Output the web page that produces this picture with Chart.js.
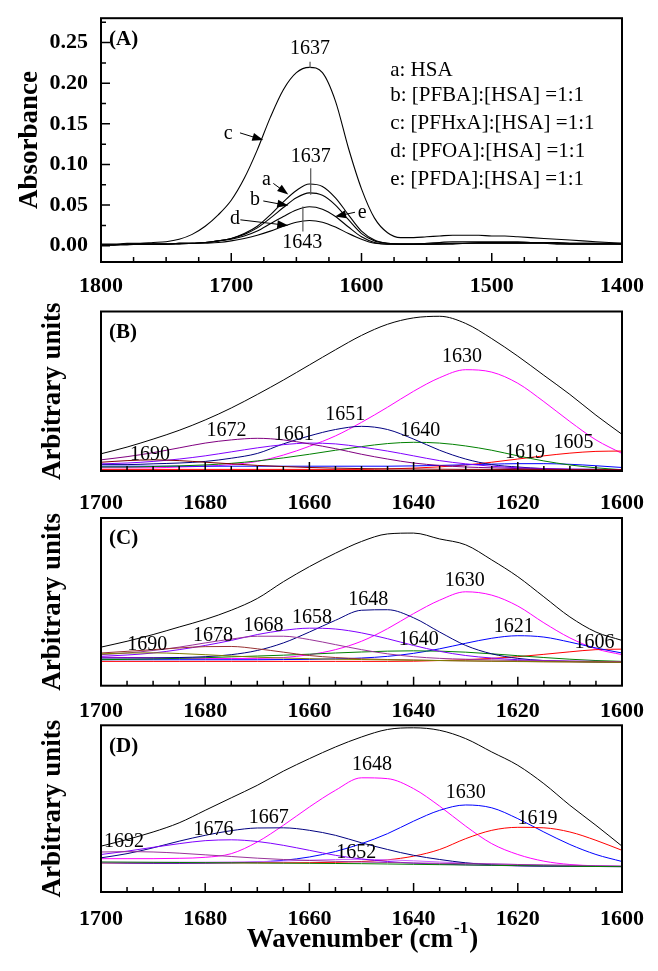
<!DOCTYPE html>
<html>
<head>
<meta charset="utf-8">
<script src="https://cdn.jsdelivr.net/npm/chart.js@4.4.1/dist/chart.umd.min.js"></script>
<style>
  html, body { margin: 0; padding: 0; background: #fff; }
  #page { position: relative; width: 658px; height: 971px; background: #fff; overflow: hidden; }
  #page canvas { position: absolute; left: 0; }
</style>
</head>
<body>
<div id="page">
  <canvas id="chartA" width="658" height="300" style="top:0px"></canvas>
  <canvas id="chartB" width="658" height="212" style="top:300px"></canvas>
  <canvas id="chartC" width="658" height="208" style="top:512px"></canvas>
  <canvas id="chartD" width="658" height="251" style="top:720px"></canvas>
</div>
<script>
const serif = "'Liberation Serif', 'Times New Roman', serif";

// ---------- (A) amide I absorbance, 1800-1400 cm-1 ----------
const waveA = [1800, 1790, 1780, 1770, 1760, 1750, 1740, 1730, 1720, 1710,
               1700, 1690, 1680, 1670, 1660, 1650, 1640, 1630, 1620, 1610,
               1600, 1590, 1580, 1570, 1560, 1550, 1540, 1530, 1520, 1510,
               1500, 1490, 1480, 1470, 1460, 1450, 1440, 1430, 1420, 1410, 1400];
const absHSA = [.001, .001, .002, .002, .002, .002, .003, .003, .004, .006,
                .009, .015, .024, .038, .054, .068, .076, .073, .059, .038,
                .018, .007, .003, .002, .002, .002, .003, .003, .003, .004,
                .004, .004, .004, .004, .004, .003, .003, .003, .003, .003, .003];
const absPFBA = [.001, .001, .002, .002, .002, .002, .003, .003, .004, .006,
                 .009, .014, .022, .034, .047, .059, .065, .062, .050, .032,
                 .015, .006, .003, .002, .002, .002, .002, .003, .003, .003,
                 .003, .003, .003, .003, .003, .003, .002, .002, .002, .002, .002];
const absPFHxA = [.002, .002, .003, .003, .004, .005, .008, .014, .024, .038,
                  .056, .083, .118, .158, .192, .213, .2195, .213, .178, .120,
                  .070, .034, .016, .010, .010, .011, .012, .013, .013, .013,
                  .012, .012, .011, .010, .009, .008, .007, .006, .005, .004, .003];
const absPFOA = [.001, .001, .001, .002, .002, .002, .002, .003, .003, .004,
                 .006, .009, .013, .018, .024, .029, .031, .029, .023, .015,
                 .008, .003, .002, .002, .002, .002, .002, .002, .003, .003,
                 .003, .003, .003, .003, .003, .002, .002, .002, .002, .002, .002];
const absPFDA = [.001, .001, .002, .002, .002, .002, .003, .003, .004, .006,
                 .008, .012, .018, .027, .036, .044, .048, .045, .036, .023,
                 .011, .004, .002, .002, .002, .003, .004, .005, .005, .005,
                 .005, .005, .005, .004, .004, .004, .003, .003, .003, .003, .002];
const legendA = ['a: HSA', 'b: [PFBA]:[HSA] =1:1', 'c: [PFHxA]:[HSA] =1:1',
                 'd: [PFOA]:[HSA] =1:1', 'e: [PFDA]:[HSA] =1:1'];
const xTicksA = [1800, 1700, 1600, 1500, 1400];
const yTicksA = [0, 0.05, 0.10, 0.15, 0.20, 0.25];

// ---------- (B)-(D) curve fitting, 1700-1600 cm-1 ----------
const waveFit = [1700, 1695, 1690, 1685, 1680, 1675, 1670, 1665, 1660, 1655,
                 1650, 1645, 1640, 1635, 1630, 1625, 1620, 1615, 1610, 1605, 1600];
const xTicksFit = [1700, 1680, 1660, 1640, 1620, 1600];

// (B)
const totalB = [10.8, 15, 20, 25.5, 32, 39.5, 48, 57, 66.5, 76, 85, 92, 96, 97, 92.5, 83, 72, 60, 48, 35, 23];
const b1690 = [5.5, 6.5, 7, 6.5, 5.5, 4.5, 3.5, 2.8, 2.2, 1.8, 1.5, 1.3, 1.2, 1.1, 1, 1, 0.9, 0.9, 0.8, 0.8, 0.8];
const b1672 = [7, 9, 11.5, 14.5, 17.5, 19.5, 20.5, 19.5, 17, 14, 10.5, 7.5, 5, 3.5, 2.5, 2, 1.5, 1.2, 1, 1, 0.8];
const b1661 = [4.5, 5, 6, 7.5, 9.5, 12, 14.5, 16.5, 17.5, 17, 15, 12.5, 9.5, 6.5, 4.5, 3, 2, 1.5, 1.2, 1, 0.8];
const b1651 = [4, 4, 4.5, 5, 6, 8, 11, 17, 22, 26, 28, 26, 20, 13, 7.5, 4, 2.5, 1.5, 1, 1, 0.8];
const b1640 = [2.5, 2.5, 2.8, 3.2, 3.8, 4.8, 6.3, 8.2, 10.5, 13, 15.3, 17.2, 18, 17.5, 15.7, 13, 9.5, 6.3, 3.8, 2, 0.8];
const b1630 = [2, 2, 2, 2.5, 3, 4, 6, 10, 15.5, 22, 30.5, 40, 50, 58.5, 63.5, 62, 55, 43.5, 31, 19.5, 11];
const b1619 = [3, 3, 3, 3, 3, 3, 3, 3, 3, 3, 3, 3, 3.2, 3.5, 3.9, 4.3, 4.6, 4.6, 4.2, 3.3, 2.2];
const b1605 = [1, 1, 1, 1, 1, 1, 1, 1, 1, 1, 1, 1.3, 1.8, 2.6, 3.8, 5.5, 7.5, 9.5, 11.2, 12.3, 12.5];

// (C)
const totalC = [23, 26.5, 30.5, 35, 39.5, 45, 52, 62, 71, 79, 86, 90.5, 91, 87.5, 84, 75, 65, 53, 41, 32, 27];
const c1690 = [19, 19.5, 19.6, 19.2, 18.5, 17.7, 17, 16.5, 16.1, 15.8, 15.6, 15.4, 15.2, 15, 14.8, 14.6, 14.5, 14.3, 14.2, 14.1, 14];
const c1678 = [19.5, 20.5, 21.5, 22.5, 23.3, 23.4, 22, 20, 18, 16.8, 16, 15.6, 15.3, 15, 14.8, 14.6, 14.4, 14.3, 14.2, 14.1, 14];
const c1668 = [18.5, 19.5, 21, 23, 25.5, 27.8, 29.5, 29.5, 27.5, 24.5, 21.5, 19, 17.3, 16.3, 15.8, 15.4, 15, 14.8, 14.6, 14.4, 14.2];
const c1658 = [17.5, 18.3, 19.5, 21.5, 24, 27, 30.5, 33, 34.3, 33.8, 31.5, 28, 24, 20.5, 18, 16.5, 15.5, 15, 14.7, 14.5, 14.3];
const c1648 = [16.5, 16.5, 16.6, 16.8, 17.3, 18.5, 21, 25.5, 32, 39, 45, 45.3, 40.5, 32, 24, 19, 16.3, 15, 14.4, 14.1, 14];
const c1640 = [15.5, 15.7, 16, 16.3, 16.7, 17.2, 17.7, 18.2, 18.8, 19.5, 20.1, 20.6, 20.8, 20.6, 20, 19, 17.9, 16.8, 15.8, 15, 14.5];
const c1630 = [17, 16.8, 16.6, 16.4, 16.3, 16.2, 16.3, 16.8, 18.5, 21.5, 26.5, 34, 43, 51, 56, 54, 47.5, 37.5, 28.5, 22, 18.5];
const c1621 = [15.5, 15.5, 15.5, 15.5, 15.5, 15.5, 15.5, 15.6, 15.7, 16, 16.5, 17.5, 19.3, 22, 25.3, 28.3, 29.8, 29, 26, 22.5, 19.5];
const c1606 = [14.5, 14.5, 14.5, 14.5, 14.5, 14.5, 14.5, 14.5, 14.5, 14.5, 14.5, 14.5, 14.6, 15, 15.5, 16.3, 17.3, 18.7, 20.2, 21.5, 21.8];

// (D)
const totalD = [27.5, 31.5, 36, 41.5, 49, 56.5, 64, 72.5, 80, 87, 93, 97.5, 98.5, 97, 92, 84, 76, 65, 52, 40, 27.5];
const d1692 = [24, 24.2, 24, 23.3, 22.3, 21.3, 20.3, 19.5, 18.9, 18.4, 18, 17.7, 17.4, 17.2, 17, 16.8, 16.5, 16.2, 16, 15.7, 15.5];
const d1676 = [22.5, 24.5, 26.8, 29, 30.8, 31.3, 30.3, 28, 25, 22, 19.8, 18.3, 17.3, 16.7, 16.3, 16, 15.7, 15.5, 15.4, 15.3, 15.2];
const d1667 = [20.5, 23, 26.5, 30.5, 34, 36.8, 38.4, 38.5, 37, 34, 29.5, 25.5, 22, 19.5, 17.5, 16.3, 15.8, 15.5, 15.4, 15.3, 15.3];
const d1652 = [17.8, 17.8, 17.8, 17.9, 17.9, 18, 18.2, 18.6, 19.1, 19.5, 19.6, 19.3, 18.7, 18, 17.3, 16.9, 16.5, 16.2, 16, 15.7, 15.5];
const d1648 = [20, 20, 20, 20.2, 20.8, 23, 30, 40, 51, 61, 68.5, 68, 62, 51.5, 39.5, 29, 22.5, 18.5, 16.5, 15.7, 15.3];
const d1630 = [17.5, 17.3, 17.2, 17.2, 17.3, 17.5, 18, 19, 21, 24.3, 29, 35, 42.5, 49, 52.2, 50.5, 44, 36, 28.5, 22.5, 18.3];
const d1619 = [17.5, 17.5, 17.5, 17.5, 17.5, 17.5, 17.5, 17.5, 17.6, 17.8, 18.3, 19.3, 21.5, 25.5, 32, 37, 38.8, 38.5, 36, 31, 25];
const dBase = [18, 17.9, 17.8, 17.7, 17.6, 17.5, 17.4, 17.3, 17.2, 17.1, 17, 16.8, 16.6, 16.4, 16.2, 16, 15.8, 15.6, 15.4, 15.3, 15.2];

// ---------- helpers ----------
const pts = (wave, vals) => wave.map((w, i) => ({ x: w, y: vals[i] }));

function line(wave, vals, color, width) {
  return {
    data: pts(wave, vals),
    borderColor: color,
    borderWidth: width || 1,
    pointRadius: 0,
    fill: false,
    cubicInterpolationMode: 'monotone'
  };
}

function arrow(ctx, x1, y1, x2, y2) {
  const ang = Math.atan2(y2 - y1, x2 - x1);
  ctx.beginPath();
  ctx.moveTo(x1, y1);
  ctx.lineTo(x2 - 8 * Math.cos(ang), y2 - 8 * Math.sin(ang));
  ctx.stroke();
  ctx.beginPath();
  ctx.moveTo(x2, y2);
  ctx.lineTo(x2 - 11 * Math.cos(ang) + 4 * Math.sin(ang), y2 - 11 * Math.sin(ang) - 4 * Math.cos(ang));
  ctx.lineTo(x2 - 11 * Math.cos(ang) - 4 * Math.sin(ang), y2 - 11 * Math.sin(ang) + 4 * Math.cos(ang));
  ctx.closePath();
  ctx.fill();
}

// frame, inward ticks and the text written on the plot
function decorate(opt) {
  return {
    id: 'decorate',
    afterDatasetsDraw(chart) {
      const { ctx, chartArea: area, scales: { x, y } } = chart;
      ctx.save();
      ctx.strokeStyle = '#000';
      ctx.fillStyle = '#000';

      // bottom ticks
      ctx.lineWidth = 1.5;
      ctx.beginPath();
      for (let v = x.min; v <= x.max + 1e-6; v += opt.xMinor) {
        const px = x.getPixelForValue(v);
        const r = (v - x.min) / opt.xMajor;
        const major = Math.abs(r - Math.round(r)) < 1e-6;
        ctx.moveTo(px, area.bottom);
        ctx.lineTo(px, area.bottom - (major ? 9 : 5));
      }
      if (opt.yMinor) {
        for (let v = Math.ceil(y.min / opt.yMinor - 1e-6) * opt.yMinor; v <= y.max + 1e-9; v += opt.yMinor) {
          const py = y.getPixelForValue(v);
          const r = v / opt.yMajor;
          const major = Math.abs(r - Math.round(r)) < 1e-6;
          ctx.moveTo(area.left, py);
          ctx.lineTo(area.left + (major ? 9 : 5), py);
        }
      }
      ctx.stroke();

      // frame
      ctx.lineWidth = 2;
      ctx.strokeRect(area.left, area.top, area.right - area.left, area.bottom - area.top);

      // marker lines
      ctx.strokeStyle = '#555';
      ctx.lineWidth = 1.2;
      (opt.markers || []).forEach(([w, y1, y2]) => {
        const px = x.getPixelForValue(w);
        ctx.beginPath();
        ctx.moveTo(px, y.getPixelForValue(y1));
        ctx.lineTo(px, y.getPixelForValue(y2));
        ctx.stroke();
      });

      // arrows
      ctx.strokeStyle = '#000';
      ctx.lineWidth = 1;
      (opt.arrows || []).forEach(([w1, v1, w2, v2]) => {
        arrow(ctx, x.getPixelForValue(w1), y.getPixelForValue(v1), x.getPixelForValue(w2), y.getPixelForValue(v2));
      });

      // peak labels
      ctx.font = `20px ${serif}`;
      ctx.textAlign = 'center';
      ctx.textBaseline = 'middle';
      (opt.notes || []).forEach(([t, w, v]) => {
        ctx.fillText(t, x.getPixelForValue(w), y.getPixelForValue(v));
      });

      // legend text (panel A)
      if (opt.legend) {
        ctx.font = `21px ${serif}`;
        ctx.textAlign = 'left';
        opt.legend.forEach((t, i) => {
          ctx.fillText(t, x.getPixelForValue(opt.legendX), y.getPixelForValue(opt.legendY[i]));
        });
      }

      // panel letter
      ctx.font = `bold 21px ${serif}`;
      ctx.textAlign = 'left';
      ctx.fillText(opt.panel, area.left + 8, area.top + 21);

      // x axis title with superscript
      if (opt.xTitle) {
        const big = `bold 27px ${serif}`, small = `bold 17px ${serif}`;
        ctx.font = big;
        const w1 = ctx.measureText('Wavenumber (cm').width;
        const w3 = ctx.measureText(')').width;
        ctx.font = small;
        const w2 = ctx.measureText('-1').width;
        const cx = (area.left + area.right) / 2;
        const cy = area.bottom + 48;
        let sx = cx - (w1 + w2 + w3) / 2;
        ctx.textAlign = 'left';
        ctx.font = big;
        ctx.fillText('Wavenumber (cm', sx, cy);
        ctx.font = small;
        ctx.fillText('-1', sx + w1 + 1, cy - 11);
        ctx.font = big;
        ctx.fillText(')', sx + w1 + w2 + 2, cy);
      }
      ctx.restore();
    }
  };
}

const tickFont = { family: serif, size: 22, weight: 'bold' };

function options(cfg) {
  return {
    responsive: false,
    animation: false,
    layout: { padding: { top: cfg.padTop, right: 36, left: 0, bottom: 0 } },
    plugins: { legend: { display: false }, tooltip: { enabled: false } },
    scales: {
      x: {
        type: 'linear', reverse: true, min: cfg.xMin, max: cfg.xMax,
        grid: { display: false }, border: { display: false },
        ticks: { color: '#000', padding: cfg.xPad, font: tickFont,
                 maxRotation: 0, autoSkip: false, callback: v => v },
        afterBuildTicks: s => { s.ticks = cfg.xTicks.map(v => ({ value: v })); },
        afterFit: s => { s.height = cfg.xHeight; }
      },
      y: {
        type: 'linear', min: cfg.yMin, max: cfg.yMax,
        grid: { display: false }, border: { display: false },
        ticks: cfg.yTicks ? { color: '#000', padding: 5, font: tickFont,
                              callback: v => v.toFixed(2) } : { display: false },
        afterBuildTicks: s => { if (cfg.yTicks) s.ticks = cfg.yTicks.map(v => ({ value: v })); },
        title: { display: true, text: cfg.yTitle, color: '#000',
                 font: { family: serif, size: 27, weight: 'bold' }, padding: { top: cfg.titlePad, bottom: 0 } },
        afterFit: s => { s.width = 101; }
      }
    }
  };
}

// ---------- (A) ----------
new Chart(document.getElementById('chartA'), {
  type: 'line',
  data: {
    datasets: [
      line(waveA, absPFHxA, '#000', 1.1),
      line(waveA, absHSA, '#000', 1.1),
      line(waveA, absPFBA, '#000', 1.1),
      line(waveA, absPFDA, '#000', 1.1),
      line(waveA, absPFOA, '#000', 1.1)
    ]
  },
  options: options({ padTop: 15, xMin: 1400, xMax: 1800, xTicks: xTicksA, xPad: 3, xHeight: 38,
                     yMin: -0.02, yMax: 0.28, yTicks: yTicksA, yTitle: 'Absorbance', titlePad: 14 }),
  plugins: [decorate({
    panel: '(A)', xMinor: 25, xMajor: 100, yMinor: 0.025, yMajor: 0.05,
    markers: [[1639.5, 0.2264, 0.2187], [1639, 0.0955, 0.0629], [1645, 0.0482, 0.0175]],
    notes: [['1637', 1639.5, 0.242], ['1637', 1639, 0.1094], ['1643', 1645.4, 0.004],
            ['c', 1702.3, 0.138], ['a', 1672.9, 0.081], ['b', 1681.8, 0.0564],
            ['d', 1697.1, 0.0338], ['e', 1599.4, 0.0412]],
    arrows: [[1693.3, 0.1389, 1675.4, 0.130], [1667.7, 0.0767, 1656.2, 0.0632],
             [1675.4, 0.0551, 1656.2, 0.0494], [1693, 0.0319, 1656.2, 0.0249],
             [1605, 0.0412, 1620.3, 0.0359]],
    legend: legendA, legendX: 1578, legendY: [0.2157, 0.185, 0.150, 0.1156, 0.081]
  })]
});

// ---------- (B) ----------
new Chart(document.getElementById('chartB'), {
  type: 'line',
  data: {
    datasets: [
      line(waveFit, b1690, '#800000'),
      line(waveFit, b1672, '#800080'),
      line(waveFit, b1661, '#8000ff'),
      line(waveFit, b1651, '#000080'),
      line(waveFit, b1640, '#008000'),
      line(waveFit, b1619, '#0000ff'),
      line(waveFit, b1605, '#ff0000'),
      line(waveFit, b1630, '#ff00ff'),
      line(waveFit, totalB, '#000')
    ]
  },
  options: options({ padTop: 11.5, xMin: 1600, xMax: 1700, xTicks: xTicksFit, xPad: 11, xHeight: 41,
                     yMin: 0, yMax: 100, yTitle: 'Arbitrary units', titlePad: 37 }),
  plugins: [decorate({
    panel: '(B)', xMinor: 5, xMajor: 20,
    notes: [['1690', 1690.6, 10.2], ['1672', 1675.9, 25.3], ['1661', 1663, 22.8], ['1651', 1653.1, 35.5],
            ['1640', 1638.7, 25.3], ['1630', 1630.7, 71.4], ['1619', 1618.6, 11.6], ['1605', 1609.3, 17.9]]
  })]
});

// ---------- (C) ----------
new Chart(document.getElementById('chartC'), {
  type: 'line',
  data: {
    datasets: [
      line(waveFit, c1690, '#808000'),
      line(waveFit, c1678, '#993333'),
      line(waveFit, c1668, '#993399'),
      line(waveFit, c1658, '#8000ff'),
      line(waveFit, c1648, '#000080'),
      line(waveFit, c1640, '#008000'),
      line(waveFit, c1621, '#0000ff'),
      line(waveFit, c1606, '#ff0000'),
      line(waveFit, c1630, '#ff00ff'),
      line(waveFit, totalC, '#000')
    ]
  },
  options: options({ padTop: 6, xMin: 1600, xMax: 1700, xTicks: xTicksFit, xPad: 4, xHeight: 34.3,
                     yMin: 0, yMax: 100, yTitle: 'Arbitrary units', titlePad: 37 }),
  plugins: [decorate({
    panel: '(C)', xMinor: 5, xMajor: 20,
    notes: [['1690', 1691.1, 24.5], ['1678', 1678.5, 29.8], ['1668', 1668.8, 35.8], ['1658', 1659.5, 40.4],
            ['1648', 1648.7, 51], ['1640', 1639, 27.3], ['1630', 1630.2, 62.8], ['1621', 1620.8, 35.2],
            ['1606', 1605.3, 25.8]]
  })]
});

// ---------- (D) ----------
new Chart(document.getElementById('chartD'), {
  type: 'line',
  data: {
    datasets: [
      line(waveFit, dBase, '#008000'),
      line(waveFit, d1692, '#993399'),
      line(waveFit, d1676, '#8000ff'),
      line(waveFit, d1667, '#000080'),
      line(waveFit, d1652, '#cc66ff'),
      line(waveFit, d1619, '#ff0000'),
      line(waveFit, d1630, '#0000ff'),
      line(waveFit, d1648, '#ff00ff'),
      line(waveFit, totalD, '#000')
    ]
  },
  options: options({ padTop: 5.3, xMin: 1600, xMax: 1700, xTicks: xTicksFit, xPad: 6, xHeight: 79,
                     yMin: 0, yMax: 100, yTitle: 'Arbitrary units', titlePad: 37 }),
  plugins: [decorate({
    panel: '(D)', xMinor: 5, xMajor: 20, xTitle: true,
    notes: [['1692', 1695.6, 30.3], ['1676', 1678.4, 37.6], ['1667', 1667.8, 44.8], ['1652', 1651, 23.4],
            ['1648', 1648, 76.4], ['1630', 1630, 59.8], ['1619', 1616.2, 44.2]]
  })]
});
</script>
</body>
</html>
